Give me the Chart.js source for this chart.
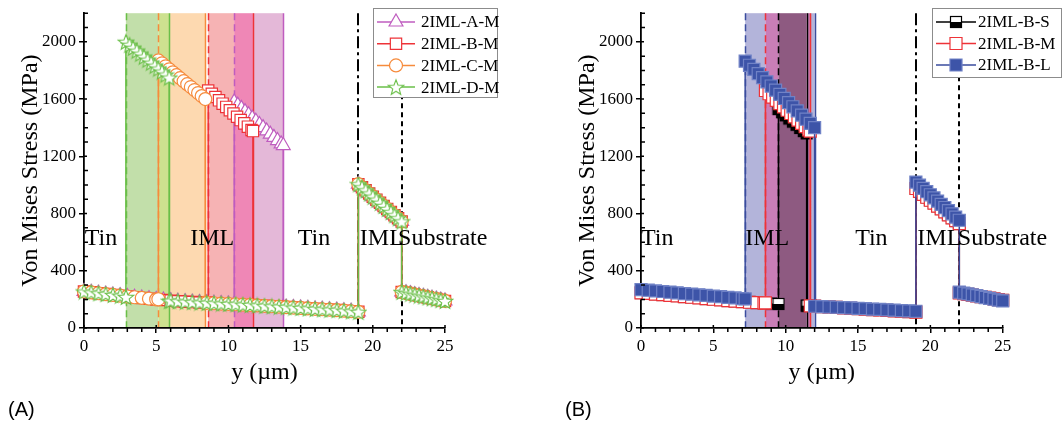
<!DOCTYPE html>
<html>
<head>
<meta charset="utf-8">
<script src="https://cdn.jsdelivr.net/npm/chart.js@4.4.1/dist/chart.umd.min.js"></script>
<style>
  body { margin: 0; background: #fff; }
  #wrap { position: relative; width: 1062px; height: 431px; overflow: hidden; }
  canvas { position: absolute; top: 0; }
  #chartA { left: 0; }
  #chartB { left: 557px; }
  .panel { position: absolute; top: 398px; font: 20px "Liberation Sans", Arial, sans-serif; color: #000; }
</style>
</head>
<body>
<div id="wrap">
  <canvas id="chartA" width="557" height="431"></canvas>
  <canvas id="chartB" width="505" height="431"></canvas>
  <div class="panel" style="left:8px">(A)</div>
  <div class="panel" style="left:565px">(B)</div>
</div>
<script>
// --- data (y position in µm, von Mises stress in MPa) ---
const tinPos = [0,0.5,1,1.5,2,2.5,3,3.5,4,4.5,5,5.5,6,6.5,7,7.5,8,8.5,9,9.5,10,10.5,11,11.5,12,12.5,13,13.5,14,14.5,15,15.5,16,16.5,17,17.5,18,18.5,19];
const tinStressA = [255,249,243,237,231,226,220,215,210,205,200,196,191,187,184,181,178,176,173,171,168,166,163,161,158,155,152,149,146,143,140,137,134,131,128,125,121,117,113];
const tinStressBL = [268,264,259,255,250,246,241,237,232,228,223,219,214,210,205,201,197,193,189,185,178,172,166,158,152,150,147,145,142,140,137,135,132,130,127,125,122,120,117];
const tinStressBMS = [246,242,237,233,228,224,219,215,210,206,201,197,192,188,184,180,177,174,171,168,165,162,159,156,153,150,147,144,141,138,135,132,129,126,123,120,117,114,111];

const iml2Pos = [19,19.25,19.5,19.75,20,20.25,20.5,20.75,21,21.25,21.5,21.75,22];
const iml2StressA = [1005,983,962,940,918,897,875,853,832,810,788,767,745];
const iml2StressBL = [1020,998,976,953,931,909,887,864,842,820,798,775,753];
const iml2StressBMS = [975,955,934,914,893,873,852,832,811,791,770,750,730];

const subPos = [22,22.3,22.6,22.9,23.2,23.5,23.8,24.1,24.4,24.7,25,25.3];
const subStressA = [252,246,240,233,227,221,214,208,202,195,189,183];
const subStressBL = [250,244,238,232,226,220,213,207,201,195,189,183];
const subStressBMS = [245,240,235,230,225,220,214,209,204,199,194,189];

// first IML layer of each model, plus the Tin stress on both sides of it
const imlPosAM = [10.4,10.65,10.9,11.15,11.4,11.65,11.9,12.15,12.4,12.65,12.9,13.15,13.4,13.65,13.8];
const imlStressAM = [1580,1557,1535,1512,1490,1467,1445,1422,1400,1377,1355,1332,1310,1287,1275];
const edgeAM = [168, 147];
const imlPosBM = [8.6,8.85,9.1,9.35,9.6,9.85,10.1,10.35,10.6,10.85,11.1,11.35,11.6,11.7];
const imlStressBM = [1660,1637,1614,1591,1568,1545,1522,1499,1476,1453,1430,1407,1384,1376];
const edgeBM = [176, 160];
const imlPosCM = [5.15,5.4,5.65,5.9,6.15,6.4,6.65,6.9,7.15,7.4,7.65,7.9,8.15,8.4];
const imlStressCM = [1870,1850,1829,1808,1787,1767,1746,1725,1704,1684,1663,1642,1621,1600];
const edgeCM = [201, 177];
const imlPosDM = [2.9,3.15,3.4,3.65,3.9,4.15,4.4,4.65,4.9,5.15,5.4,5.65,5.9];
const imlStressDM = [2000,1979,1958,1938,1917,1896,1875,1854,1833,1813,1792,1771,1750];
const edgeDM = [217, 190];

const imlPosBS = [9.5,9.75,10,10.25,10.5,10.75,11,11.25,11.45];
const imlStressBS = [1530,1508,1486,1464,1442,1420,1398,1376,1360];
const edgeBS = [168, 156];
const edgeBM2 = [176, 155];
const imlPosBL = [7.2,7.5,7.8,8.1,8.4,8.7,9,9.3,9.6,9.9,10.2,10.5,10.8,11.1,11.4,11.7,12];
const imlStressBL = [1865,1836,1807,1778,1749,1720,1691,1662,1633,1604,1575,1546,1517,1488,1459,1430,1400];
const edgeBL = [203, 152];

const layerNames = ['Tin', 'IML', 'Tin', 'IML', 'Substrate'];
const layerNamePosA = [0.05, 7.35, 14.8, 19.1, 21.75];
const layerNamePosB = [0, 7.2, 14.8, 19.1, 21.9];
const layerNameStress = 580;

// --- styles ---
const serif = '"Liberation Serif", "Times New Roman", serif';
const bandColorsA = { D: '#c2dfaa', CD: '#cde18f', C: '#fdd9b0', B: '#f6b3b4', AB: '#ef87b6', A: '#e4b8d8' };
const bandColorsB = { L: '#b3b4da', LM: '#c97eb7', LMS: '#8e5a81' };

function starImage(color) {
  const c = document.createElement('canvas');
  c.width = 18; c.height = 18;
  const g = c.getContext('2d');
  g.beginPath();
  for (let i = 0; i < 10; i++) {
    const r = i % 2 ? 3.4 : 8;
    const a = -Math.PI / 2 + i * Math.PI / 5;
    const px = 9 + r * Math.cos(a), py = 9.8 + r * Math.sin(a);
    if (i) g.lineTo(px, py); else g.moveTo(px, py);
  }
  g.closePath();
  g.fillStyle = '#fff'; g.fill();
  g.strokeStyle = color; g.lineWidth = 1.1; g.stroke();
  return c;
}

function halfSquareImage() {
  const c = document.createElement('canvas');
  c.width = 14; c.height = 14;
  const g = c.getContext('2d');
  g.fillStyle = '#fff'; g.fillRect(1, 1, 12, 12);
  g.fillStyle = '#000'; g.fillRect(1, 7, 12, 6);
  g.strokeStyle = '#000'; g.lineWidth = 1.2; g.strokeRect(1.5, 1.5, 11, 11);
  return c;
}

function buildPoints(tin, edge, imlPos, imlStress, iml2, sub) {
  const pts = [];
  const s = imlPos[0], e = imlPos[imlPos.length - 1];
  tinPos.forEach((x, i) => { if (x < s) pts.push({ x: x, y: tin[i] }); });
  pts.push({ x: s, y: edge[0] });
  imlPos.forEach((x, i) => pts.push({ x: x, y: imlStress[i] }));
  pts.push({ x: e, y: edge[1] });
  tinPos.forEach((x, i) => { if (x > e) pts.push({ x: x, y: tin[i] }); });
  iml2Pos.forEach((x, i) => pts.push({ x: x, y: iml2[i] }));
  subPos.forEach((x, i) => pts.push({ x: x, y: sub[i] }));
  return pts;
}

function series(label, id, pts, imlPos, st) {
  return {
    label: label,
    bandId: id,
    bandStart: imlPos[0],
    bandEnd: imlPos[imlPos.length - 1],
    data: pts,
    showLine: true,
    borderColor: st.color,
    borderWidth: 1.5,
    pointStyle: st.pointStyle,
    pointRadius: st.radius,
    pointBackgroundColor: st.fill,
    pointBorderColor: st.border,
    pointBorderWidth: 1.2,
    clip: false,
    order: st.order,
    legendIndex: st.legendIndex
  };
}

// bands, interface lines
const layerBands = {
  id: 'layerBands',
  beforeDraw(chart, args, opts) {
    const { ctx, chartArea: a, scales: { x } } = chart;
    const sets = chart.data.datasets;
    const edges = [...new Set(sets.flatMap(d => [d.bandStart, d.bandEnd]))].sort((p, q) => p - q);
    ctx.save();
    for (let i = 0; i < edges.length - 1; i++) {
      const mid = (edges[i] + edges[i + 1]) / 2;
      const key = sets.filter(d => d.bandStart <= mid && d.bandEnd >= mid).map(d => d.bandId).sort().join('');
      const col = opts.colors[key];
      if (!col) continue;
      const x0 = x.getPixelForValue(edges[i]), x1 = x.getPixelForValue(edges[i + 1]);
      ctx.fillStyle = col;
      ctx.fillRect(x0, a.top, x1 - x0, a.bottom - a.top);
    }
    ctx.lineWidth = 1.5;
    sets.forEach(d => {
      ctx.strokeStyle = d.borderColor;
      ctx.setLineDash([7, 4]);
      let px = Math.round(x.getPixelForValue(d.bandStart)) + 0.5;
      ctx.beginPath(); ctx.moveTo(px, a.top); ctx.lineTo(px, a.bottom); ctx.stroke();
      ctx.setLineDash([]);
      px = Math.round(x.getPixelForValue(d.bandEnd)) + 0.5;
      ctx.beginPath(); ctx.moveTo(px, a.top); ctx.lineTo(px, a.bottom); ctx.stroke();
    });
    ctx.strokeStyle = '#000';
    ctx.lineWidth = 2;
    ctx.setLineDash([12, 4, 3, 4]);
    let px = Math.round(x.getPixelForValue(iml2Pos[0]));
    ctx.beginPath(); ctx.moveTo(px, a.top); ctx.lineTo(px, a.bottom); ctx.stroke();
    ctx.setLineDash([5, 4]);
    px = Math.round(x.getPixelForValue(iml2Pos[iml2Pos.length - 1]));
    ctx.beginPath(); ctx.moveTo(px, a.top); ctx.lineTo(px, a.bottom); ctx.stroke();
    ctx.restore();
  }
};

const minorTicks = {
  id: 'minorTicks',
  afterDraw(chart) {
    const { ctx, chartArea: a, scales: { x, y } } = chart;
    ctx.save();
    ctx.strokeStyle = '#000';
    ctx.lineWidth = 1.5;
    ctx.beginPath();
    for (let v = 0; v <= 25; v += 1) {
      const px = x.getPixelForValue(v);
      if (v % 5) { ctx.moveTo(px, a.bottom); ctx.lineTo(px, a.bottom + 4); }
      else { ctx.moveTo(px, a.bottom); ctx.lineTo(px, a.bottom - 3); }
    }
    for (let v = 0; v <= 2200; v += 100) {
      const py = y.getPixelForValue(v);
      if (v % 400) { ctx.moveTo(a.left, py); ctx.lineTo(a.left + 4, py); }
      else { ctx.moveTo(a.left, py); ctx.lineTo(a.left + 3, py); }
    }
    ctx.stroke();
    ctx.restore();
  }
};

const layerText = {
  id: 'layerText',
  afterDraw(chart, args, opts) {
    const { ctx, scales: { x, y } } = chart;
    ctx.save();
    ctx.font = '24px ' + serif;
    ctx.fillStyle = '#000';
    ctx.textBaseline = 'alphabetic';
    layerNames.forEach((t, i) => ctx.fillText(t, x.getPixelForValue(opts.pos[i]), y.getPixelForValue(layerNameStress)));
    ctx.restore();
  }
};

const legendBox = {
  id: 'legendBox',
  afterDraw(chart, args, opts) {
    const ctx = chart.ctx;
    ctx.save();
    ctx.fillStyle = '#fff';
    ctx.fillRect(opts.x, opts.y, opts.w, opts.h);
    ctx.strokeStyle = '#8c8c8c';
    ctx.lineWidth = 1;
    ctx.strokeRect(opts.x + 0.5, opts.y + 0.5, opts.w, opts.h);
    const sets = chart.data.datasets.slice().sort((p, q) => p.legendIndex - q.legendIndex);
    sets.forEach((ds, i) => {
      const yy = opts.y + opts.first + i * opts.step;
      ctx.strokeStyle = ds.borderColor;
      ctx.lineWidth = 1.5;
      ctx.beginPath(); ctx.moveTo(opts.x + 4, yy); ctx.lineTo(opts.x + 4 + opts.line, yy); ctx.stroke();
      ctx.fillStyle = ds.pointBackgroundColor;
      ctx.strokeStyle = ds.pointBorderColor;
      ctx.lineWidth = ds.pointBorderWidth;
      Chart.helpers.drawPoint(ctx, { pointStyle: ds.pointStyle, radius: ds.pointRadius, rotation: 0, borderWidth: ds.pointBorderWidth }, opts.x + 4 + opts.line / 2, yy);
      ctx.fillStyle = '#000';
      ctx.font = '17px ' + serif;
      ctx.textBaseline = 'middle';
      ctx.fillText(ds.label, opts.x + opts.textX, yy + 1);
    });
    ctx.restore();
  }
};

function makeChart(id, datasets, rightPad, bandColors, namePos, legend) {
  return new Chart(document.getElementById(id), {
    type: 'scatter',
    data: { datasets: datasets },
    plugins: [layerBands, minorTicks, layerText, legendBox],
    options: {
      responsive: false,
      animation: false,
      events: [],
      layout: { padding: { top: 13, right: rightPad, left: 0, bottom: 0 } },
      elements: { line: { tension: 0 } },
      plugins: {
        legend: { display: false },
        tooltip: { enabled: false },
        layerBands: { colors: bandColors },
        layerText: { pos: namePos },
        legendBox: legend
      },
      scales: {
        x: {
          type: 'linear', min: 0, max: 25,
          afterFit: s => { s.height = 103; },
          ticks: { stepSize: 5, color: '#000', padding: 3, font: { family: serif, size: 17 }, callback: v => String(v) },
          grid: { display: true, drawOnChartArea: false, drawTicks: true, tickLength: 5, color: '#000', lineWidth: 1.5 },
          border: { display: true, color: '#000', width: 1.8 },
          title: { display: true, text: 'y (µm)', color: '#000', font: { family: serif, size: 24 }, padding: { top: 4, bottom: 44 } }
        },
        y: {
          min: 0, max: 2200,
          afterFit: s => { s.width = 84; },
          ticks: { stepSize: 400, includeBounds: false, color: '#000', padding: 3, font: { family: serif, size: 17 }, callback: v => String(v) },
          grid: { display: true, drawOnChartArea: false, drawTicks: true, tickLength: 5, color: '#000', lineWidth: 1.5 },
          border: { display: true, color: '#000', width: 1.8 },
          title: { display: true, text: 'Von Mises Stress (MPa)', color: '#000', font: { family: serif, size: 24 }, padding: { top: 16, bottom: 0 } }
        }
      }
    }
  });
}

// panel A
const purple = '#bf5cbf', red = '#ee3338', orange = '#f68b3c', green = '#6abf48', blue = '#3a4c9e';
const setsA = [
  series('2IML-A-M', 'A', buildPoints(tinStressA, edgeAM, imlPosAM, imlStressAM, iml2StressA, subStressA), imlPosAM,
    { color: purple, pointStyle: 'triangle', radius: 8, fill: '#fff', border: purple, order: 3, legendIndex: 0 }),
  series('2IML-B-M', 'B', buildPoints(tinStressA, edgeBM, imlPosBM, imlStressBM, iml2StressA, subStressA), imlPosBM,
    { color: red, pointStyle: 'rect', radius: 8, fill: '#fff', border: red, order: 2, legendIndex: 1 }),
  series('2IML-C-M', 'C', buildPoints(tinStressA, edgeCM, imlPosCM, imlStressCM, iml2StressA, subStressA), imlPosCM,
    { color: orange, pointStyle: 'circle', radius: 6.5, fill: '#fff', border: orange, order: 1, legendIndex: 2 }),
  series('2IML-D-M', 'D', buildPoints(tinStressA, edgeDM, imlPosDM, imlStressDM, iml2StressA, subStressA), imlPosDM,
    { color: green, pointStyle: starImage(green), radius: 7, fill: '#fff', border: green, order: 0, legendIndex: 3 })
];
makeChart('chartA', setsA, 112, bandColorsA, layerNamePosA,
  { x: 373, y: 8, w: 124, h: 89, first: 14, step: 21.7, line: 38, textX: 48 });

// panel B
const setsB = [
  series('2IML-B-S', 'S', buildPoints(tinStressBMS, edgeBS, imlPosBS, imlStressBS, iml2StressBMS, subStressBMS), imlPosBS,
    { color: '#000', pointStyle: halfSquareImage(), radius: 7, fill: '#fff', border: '#000', order: 2, legendIndex: 0 }),
  series('2IML-B-M', 'M', buildPoints(tinStressBMS, edgeBM2, imlPosBM, imlStressBM, iml2StressBMS, subStressBMS), imlPosBM,
    { color: red, pointStyle: 'rect', radius: 8.5, fill: '#fff', border: red, order: 1, legendIndex: 1 }),
  series('2IML-B-L', 'L', buildPoints(tinStressBL, edgeBL, imlPosBL, imlStressBL, iml2StressBL, subStressBL), imlPosBL,
    { color: blue, pointStyle: 'rect', radius: 8.5, fill: '#3d54a8', border: '#7082c6', order: 0, legendIndex: 2 })
];
makeChart('chartB', setsB, 59.3, bandColorsB, layerNamePosB,
  { x: 375, y: 8, w: 129, h: 69, first: 14, step: 21.5, line: 40, textX: 46 });
</script>
</body>
</html>
